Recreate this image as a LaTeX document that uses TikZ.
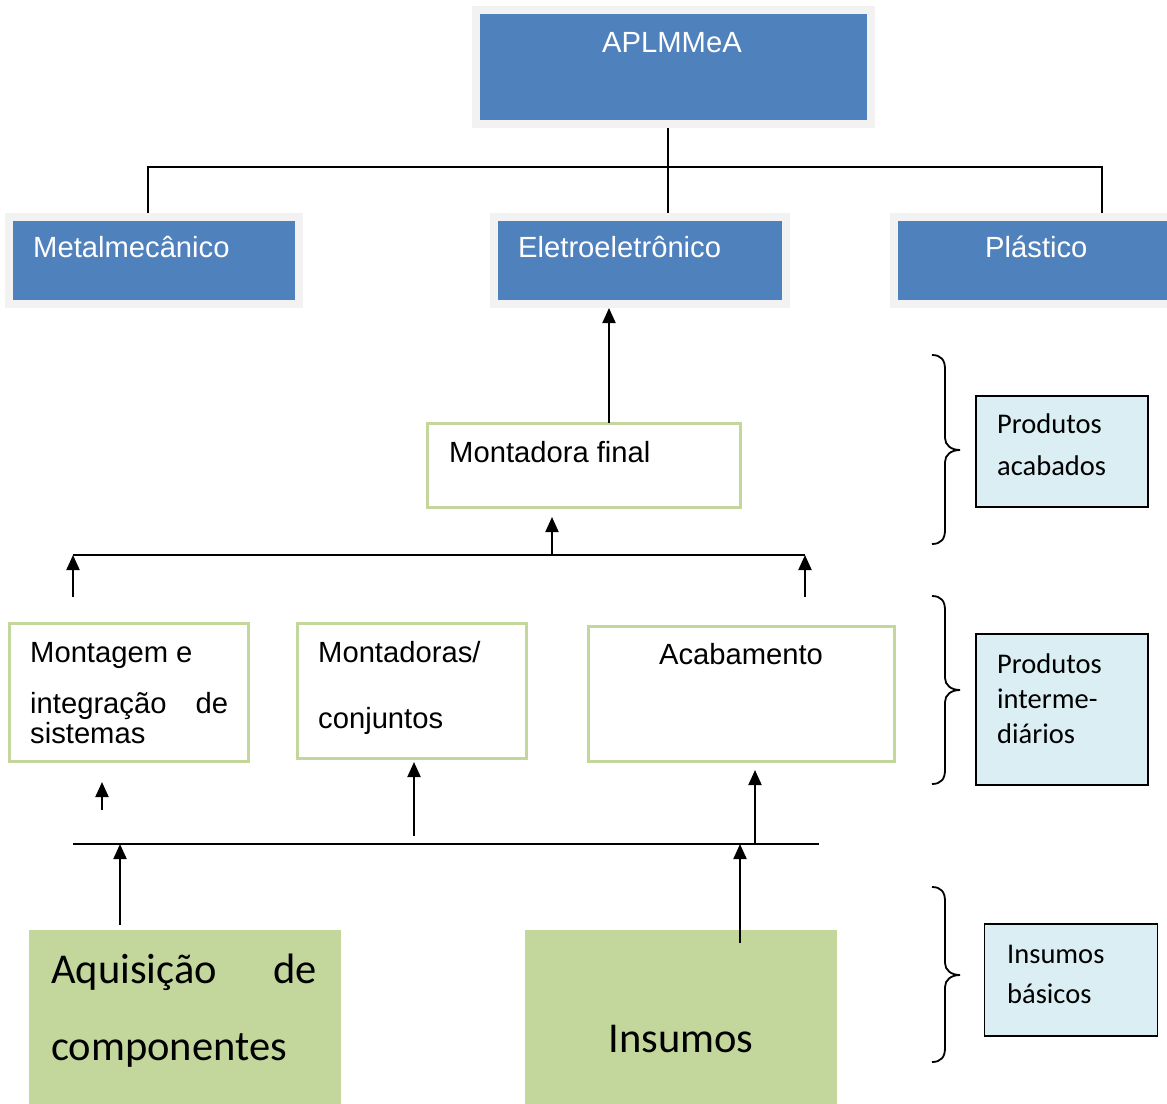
\documentclass[tikz,border=0pt]{standalone}
\usepackage{fontspec}
\setmainfont{Liberation Sans}
\newfontfamily\calib{Carlito}
\usetikzlibrary{arrows.meta}
\definecolor{blueA}{HTML}{4F81BD}
\definecolor{frameG}{HTML}{F2F2F2}
\definecolor{greenA}{HTML}{C3D69B}
\definecolor{lightB}{HTML}{DAEEF3}
\newcommand{\drawbrace}[3]{%
  \draw[bracestyle] (932,#1) .. controls (941,#1) and (945,#1+5) .. (945,#1+14)
    -- (945,#2-12) .. controls (945,#2-5) and (951,#2) .. (960,#2)
    .. controls (951,#2) and (945,#2+5) .. (945,#2+12)
    -- (945,#3-14) .. controls (945,#3-5) and (941,#3) .. (932,#3);}
\begin{document}
\begin{tikzpicture}[x=1pt,y=-1pt,
  bluebox/.style={fill=frameG, inner sep=0pt, outer sep=0pt,
    path picture={\fill[blueA] ([xshift=8pt,yshift=-8pt]path picture bounding box.north west)
      rectangle ([xshift=-8pt,yshift=8pt]path picture bounding box.south east);}},
  greenbox/.style={draw=greenA, line width=3pt, fill=white, inner sep=0pt, outer sep=0pt},
  infobox/.style={draw=black, line width=1.6pt, fill=lightB, inner sep=0pt, outer sep=0pt},
  solidbox/.style={fill=greenA, inner sep=0pt, outer sep=0pt},
  arialtxt/.style={font=\fontsize{29.2}{34}\selectfont, anchor=base west, inner sep=0pt},
  whitetxt/.style={arialtxt, text=white},
  calibtxt/.style={font=\calib\fontsize{28.5}{34}\selectfont, anchor=base west, inner sep=0pt},
  bigtxt/.style={font=\calib\fontsize{42.5}{50}\selectfont, anchor=base west, inner sep=0pt},
  conn/.style={line width=2pt},
  arr/.style={line width=2pt, -{Triangle[length=15pt,width=13pt]}},
  bracestyle/.style={line width=1.8pt}]
\useasboundingbox (0,0) rectangle (1167,1103);
\clip (0,0) rectangle (1167,1103);

% top level
\node[bluebox, minimum width=403pt, minimum height=122pt] (top) at (673.5,67) {};
\node[whitetxt, anchor=base] (t-top) at (672,52) {APLMMeA};

\node[bluebox, minimum width=298pt, minimum height=95pt] (metal) at (154,260.5) {};
\node[bluebox, minimum width=300pt, minimum height=95pt] (eletro) at (640,260.5) {};
\node[bluebox, minimum width=290pt, minimum height=95pt] (plast) at (1035,260.5) {};
\node[whitetxt] (t-metal) at (33,257) {Metalmecânico};
\node[whitetxt] (t-eletro) at (518,257) {Eletroeletrônico};
\node[whitetxt] (t-plast) at (985,257) {Plástico};

\draw[conn] (top.south -| 668,0) -- (eletro.north -| 668,0);
\draw[conn] (metal.north -| 148,0) -- (148,167) -- (1102,167) -- (plast.north -| 1102,0);

% montadora final
\node[greenbox, minimum width=313pt, minimum height=84pt] (monf) at (583.5,465) {};
\node[arialtxt] (t-monf) at (449,462) {Montadora final};
\draw[arr] (monf.north -| 609,0) -- (eletro.south -| 609,0);

% bus 1
\coordinate (bus1L) at (73,555);
\coordinate (bus1R) at (805,555);
\coordinate (bus1M) at (552,555);
\draw[conn] (bus1L) -- (bus1R);
\draw[arr, shorten >=10pt] (bus1M) -- (monf.south -| bus1M);

% middle boxes
\node[greenbox, minimum width=239pt, minimum height=138pt] (mont) at (128.5,692) {};
\node[greenbox, minimum width=229pt, minimum height=135pt] (mtds) at (411.5,690.5) {};
\node[greenbox, minimum width=306pt, minimum height=135pt] (acab) at (741,693.5) {};
\node[arialtxt] (t-mont1) at (30,662) {Montagem e};
\node[arialtxt] (t-mont2) at (30,713) {\makebox[198pt][s]{integração de}};
\node[arialtxt] (t-mont3) at (30,743) {sistemas};
\node[arialtxt] (t-mtds1) at (318,662) {Montadoras/};
\node[arialtxt] (t-mtds2) at (318,728) {conjuntos};
\node[arialtxt, anchor=base] (t-acab) at (741,664) {Acabamento};

\draw[arr, shorten <=26pt] (mont.north -| bus1L) -- (bus1L);
\draw[arr, shorten <=29pt] (acab.north -| bus1R) -- (bus1R);

% bus 2
\coordinate (bus2L) at (73,844);
\coordinate (bus2R) at (819,844);
\draw[conn] (bus2L) -- (bus2R);
\draw[arr, shorten <=34pt, shorten >=21pt] (bus2L -| 102,0) -- (mont.south -| 102,0);
\draw[arr, shorten <=8pt, shorten >=4pt] (bus2L -| 414,0) -- (mtds.south -| 414,0);
\draw[arr, shorten >=9pt] (bus2L -| 755,0) -- (acab.south -| 755,0);

% bottom boxes
\node[solidbox, minimum width=312pt, minimum height=190pt, anchor=north west] (aquis) at (29,930) {};
\node[solidbox, minimum width=312pt, minimum height=190pt, anchor=north west] (insum) at (525,930) {};
\node[bigtxt] (t-aq1) at (51,983) {\makebox[266pt][s]{Aquisição de}};
\node[bigtxt] (t-aq2) at (51,1060) {componentes};
\node[bigtxt, anchor=base] (t-ins) at (681,1052) {Insumos};
\draw[arr, shorten <=5pt] (aquis.north -| 120,0) -- (bus2L -| 120,0);
\draw[arr, shorten <=-13pt] (insum.north -| 740,0) -- (bus2L -| 740,0);

% info boxes
\node[infobox, minimum width=172pt, minimum height=111pt] (pa) at (1062,451.5) {};
\node[calibtxt] (t-pa1) at (997,433) {Produtos};
\node[calibtxt] (t-pa2) at (997,475) {acabados};
\node[infobox, minimum width=172pt, minimum height=151pt] (pi) at (1062,709.5) {};
\node[calibtxt] (t-pi1) at (997,673) {Produtos};
\node[calibtxt] (t-pi2) at (997,708) {interme-};
\node[calibtxt] (t-pi3) at (997,743) {diários};
\node[infobox, minimum width=173pt, minimum height=112pt] (ib) at (1071,980) {};
\node[calibtxt] (t-ib1) at (1007,963) {Insumos};
\node[calibtxt] (t-ib2) at (1007,1003) {básicos};

% braces
\drawbrace{355}{450}{544}
\drawbrace{596}{690}{784}
\drawbrace{887}{975}{1062}
\end{tikzpicture}
\end{document}
